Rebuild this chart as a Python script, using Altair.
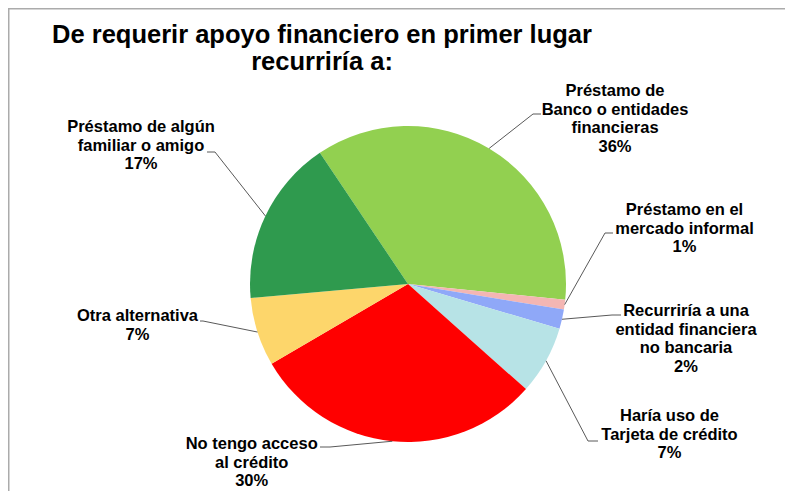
import math
import altair as alt
import pandas as pd

# ---------------- data ----------------
CATEGORIES = [
    ["Préstamo de", "Banco o entidades", "financieras"],
    ["Préstamo en el", "mercado informal"],
    ["Recurriría a una", "entidad financiera", "no bancaria"],
    ["Haría uso de", "Tarjeta de crédito"],
    ["No tengo acceso", "al crédito"],
    ["Otra alternativa"],
    ["Préstamo de algún", "familiar o amigo"],
]
PERCENTS = [36, 1, 2, 7, 30, 7, 17]
COLORS = ["#92D050", "#F4B6B3", "#8FA8F8", "#B7E3E6", "#FF0000", "#FDD66B", "#2F9A4E"]
TITLE_LINES = ["De requerir apoyo financiero en primer lugar", "recurriría a:"]

# ---------------- layout (page pixel coordinates) ----------------
LABEL_X = [615, 684.5, 686, 669.5, 251.7, 137.5, 141]
LABEL_Y = [96, 215, 316, 421, 449, 321, 132]
ELBOW_X = [533, 605, 612, 588, 330, 203, 215]
ELBOW_Y = [114, 233, 315, 441, 447, 321, 152]
END_X = [541, 613, 621, 598, 320, 200, 207]

OX, OY = 8, 8            # page margin
W, H = 777, 483
CX, CY, R = 408 - OX, 284 - OY, 158
START = math.radians(-33.9)
FONT = "Liberation Sans"
LINE_COLOR = "#595959"

names = [" ".join(c) for c in CATEGORIES]
df = pd.DataFrame({
    "idx": list(range(len(names))),
    "key": names,
    "value": PERCENTS,
    "label": ["\n".join(c + [f"{p}%"]) for c, p in zip(CATEGORIES, PERCENTS)],
    "lx": [v - OX for v in LABEL_X],
    "ly": [v - OY for v in LABEL_Y],
    "ex": [v - OX for v in ELBOW_X],
    "ey": [v - OY for v in ELBOW_Y],
    "hx": [v - OX for v in END_X],
})

base = alt.Chart(df)

pie = base.mark_arc(outerRadius=R).encode(
    theta=alt.Theta("value:Q", stack=True,
                    scale=alt.Scale(range=[START, START + 2 * math.pi])),
    color=alt.Color("key:N", scale=alt.Scale(domain=names, range=COLORS), legend=None),
    order=alt.Order("idx:Q"),
    x=alt.value(CX),
    y=alt.value(CY),
)

lead = base.transform_window(
    cum="sum(value)", sort=[alt.SortField("idx")], frame=[None, 0]
).transform_joinaggregate(
    total="sum(value)"
).transform_calculate(
    mid=f"{START} + (datum.cum - datum.value / 2) / datum.total * 2 * PI"
).transform_calculate(
    sx=f"{CX} + {R} * sin(datum.mid)",
    sy=f"{CY} - {R} * cos(datum.mid)",
)

seg1 = lead.mark_rule(color=LINE_COLOR, strokeWidth=1).encode(
    x=alt.X("sx:Q", scale=None, axis=None),
    y=alt.Y("sy:Q", scale=None, axis=None),
    x2="ex:Q",
    y2="ey:Q",
)
seg2 = base.mark_rule(color=LINE_COLOR, strokeWidth=1).encode(
    x=alt.X("ex:Q", scale=None, axis=None),
    x2="hx:Q",
    y=alt.Y("ey:Q", scale=None, axis=None),
)

labels = base.mark_text(
    align="center", baseline="alphabetic", lineBreak="\n", font=FONT,
    fontWeight="bold", fontSize=16.5, lineHeight=18.5, color="black",
).encode(
    x=alt.X("lx:Q", scale=None, axis=None),
    y=alt.Y("ly:Q", scale=None, axis=None),
    text="label:N",
)

title = alt.Chart(pd.DataFrame({"t": ["\n".join(TITLE_LINES)]})).mark_text(
    align="center", baseline="alphabetic", lineBreak="\n", font=FONT,
    fontWeight="bold", fontSize=25.5, lineHeight=27, color="black",
).encode(x=alt.value(322 - OX), y=alt.value(43 - OY), text="t:N")

one = pd.DataFrame({"a": [0]})
border_top = alt.Chart(one).mark_rule(color="#ABABAB", strokeWidth=1.5).encode(
    x=alt.value(0), x2=alt.value(W), y=alt.value(0.75), y2=alt.value(0.75))
border_left = alt.Chart(one).mark_rule(color="#ABABAB", strokeWidth=1.5).encode(
    x=alt.value(0.75), x2=alt.value(0.75), y=alt.value(0), y2=alt.value(H))

chart = alt.layer(border_top, border_left, pie, seg1, seg2, labels, title).properties(
    width=W, height=H, padding=0, autosize="none"
).configure_view(stroke=None)

chart.save("out.html", embed_options={"renderer": "svg", "actions": False})
